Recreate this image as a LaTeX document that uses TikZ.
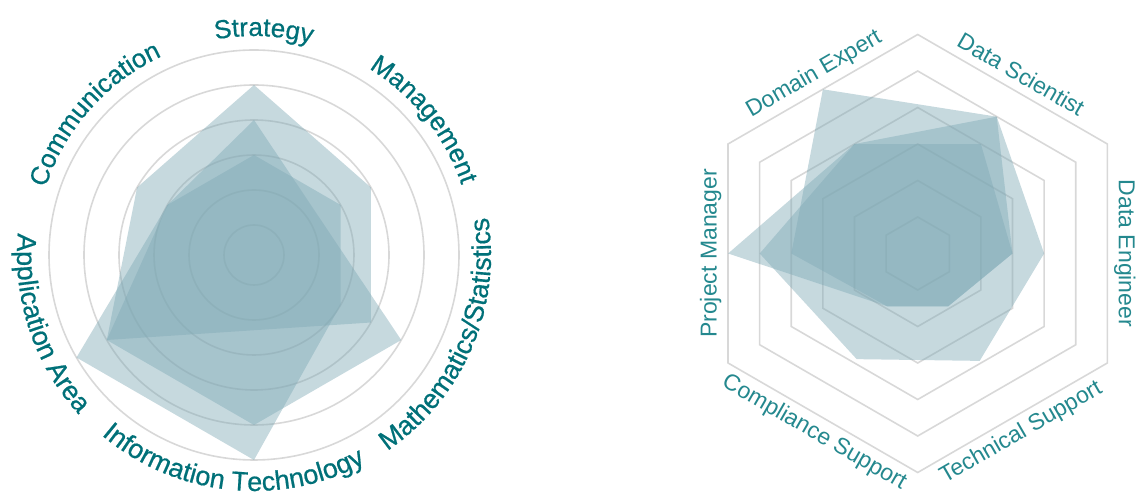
\documentclass[tikz,border=0pt]{standalone}
\usepackage{fontspec}
\setmainfont{Liberation Sans}
\newfontfamily\leftlblfam{Liberation Sans}[FakeBold=0.6]
\usetikzlibrary{decorations.text}
\definecolor{gridgray}{RGB}{216,216,216}
\definecolor{polyfill}{RGB}{128,170,182}
\definecolor{lblleft}{RGB}{0,112,120}
\definecolor{lblright}{RGB}{36,136,142}
\newcommand{\leftlblfont}{\leftlblfam\fontsize{26}{30}\selectfont}
\newcommand{\leftlblfontb}{\leftlblfam\fontsize{27}{31}\selectfont}
\newcommand{\rightlblfont}{\fontsize{23}{28}\selectfont}
\begin{document}
\begin{tikzpicture}[x=1pt,y=1pt,
  gridline/.style={draw=gridgray, line width=1.6pt},
  poly/.style={fill=polyfill, fill opacity=0.45},
  rlabel/.style={font=\rightlblfont, text=lblright, inner sep=0pt},
  arclabel/.style={decorate, decoration={text along path, text align=center, text color=lblleft}},
]
\useasboundingbox (0,0) rectangle (1138,492);
% ---------------- left radar chart ----------------
\begin{scope}[shift={(254,237)}]
  \foreach \r in {30,65,100,135,170,205} \draw[gridline] (0,0) circle[radius=\r];
  \fill[poly] (90:170) -- (30:135) -- (-30:135) -- (-150:170) -- (150:135) -- cycle;
  \fill[poly] (90:135) -- (-30:170) -- (-90:170) -- (-150:170) -- (150:100) -- cycle;
  \fill[poly] (90:100) -- (30:100) -- (-30:100) -- (-90:205) -- (-150:205) -- (150:100) -- cycle;
  % labels (clockwise, tops outward)
  \path[arclabel, decoration={text={|\leftlblfont|Strategy}}] (137.5:219) arc[start angle=137.5, end angle=37.5, radius=219];
  \path[arclabel, decoration={text={|\leftlblfont|Management}}] (88.5:219) arc[start angle=88.5, end angle=-11.5, radius=219];
  \path[arclabel, decoration={text={|\leftlblfont|Communication}}] (188.5:219) arc[start angle=188.5, end angle=88.5, radius=219];
  % labels (counterclockwise, tops inward)
  \path[arclabel, decoration={text={|\leftlblfontb|Mathematics/Statistics}}] (-78.3:237) arc[start angle=-78.3, end angle=31.7, radius=237];
  \path[arclabel, decoration={text={|\leftlblfontb|Information Technology}}] (-151:236) arc[start angle=-151, end angle=-41, radius=236];
  \path[arclabel, decoration={text={|\leftlblfontb|Application Area}}] (-216.5:237) arc[start angle=-216.5, end angle=-106.5, radius=237];
\end{scope}
% ---------------- right radar chart ----------------
\begin{scope}[shift={(917.7,238.5)}]
  \foreach \R in {36.5,73,109.5,146,182.5,219}
    \draw[gridline] (90:\R) -- (30:\R) -- (-30:\R) -- (-90:\R) -- (-150:\R) -- (150:\R) -- cycle;
  \fill[poly] (120:189.6) -- (60:158) -- (0:94.8) -- (-60:61) -- (-120:61) -- (180:126.4) -- cycle;
  \fill[poly] (120:126.4) -- (60:126.4) -- (0:94.8) -- (-60:61) -- (-120:61) -- (180:189.6) -- cycle;
  \fill[poly] (120:126.4) -- (60:158) -- (0:126.4) -- (-60:124) -- (-120:122) -- (180:158) -- cycle;
  \node[rlabel, rotate=30]  (de)  at (120:207) {Domain Expert};
  \node[rlabel, rotate=-30] (ds)  at (60:207)  {Data Scientist};
  \node[rlabel, rotate=-90] (eng) at (0:207)   {Data Engineer};
  \node[rlabel, rotate=30]  (ts)  at (-60:207) {Technical Support};
  \node[rlabel, rotate=-30] (cs)  at (-120:207) {Compliance Support};
  \node[rlabel, rotate=90]  (pm)  at (180:207) {Project Manager};
\end{scope}
\end{tikzpicture}
\end{document}
